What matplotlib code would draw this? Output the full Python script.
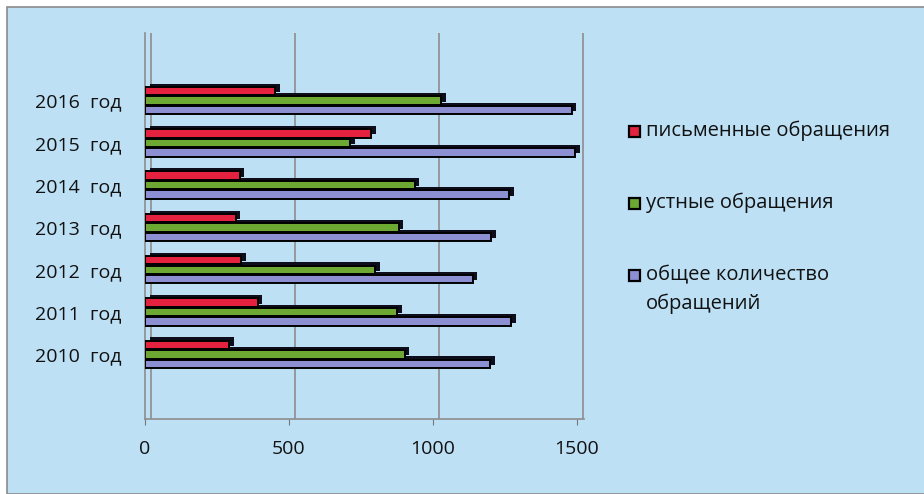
import matplotlib.pyplot as plt
import numpy as np
from matplotlib.patches import Rectangle

plt.rcParams["font.family"] = ["Open Sans", "DejaVu Sans"]
plt.rcParams["text.color"] = "#111111"
plt.rcParams["xtick.color"] = "#111111"
plt.rcParams["ytick.color"] = "#111111"

# ── data ─────────────────────────────────────────────────────────────────────
years = ["2010  год", "2011  год", "2012  год", "2013  год",
         "2014  год", "2015  год", "2016  год"]
written = [293, 392, 334, 315, 329, 785, 453]
oral = [902, 876, 800, 881, 937, 713, 1028]
total = [1200, 1272, 1138, 1203, 1266, 1495, 1482]
x_ticks = [0, 500, 1000, 1500]

series = [
    ("письменные обращения", written, "#e4223f"),
    ("устные обращения", oral, "#6ca832"),
    ("общее количество\nобращений", total, "#8d8fd3"),
]

BG = "#bde0f5"
GRID = "#8c8c8c"
W, H = 924, 494

fig = plt.figure(figsize=(W / 100, H / 100), dpi=100, facecolor="white")
# outer panel with grey frame on the left/top
fig.patches.append(Rectangle((7 / W, 0), 1, 1 - 7 / H, transform=fig.transFigure,
                             facecolor=BG, edgecolor="#8a8a8a", lw=1.2,
                             zorder=-10))

ax = fig.add_axes([145 / W, 75 / H, 439 / W, 386 / H])
ax.set_facecolor("none")

y = np.arange(len(years))
bh = 0.2
dx, dy = 16, 0.075          # fake 3D depth
for k, (label, vals, col) in enumerate(series):
    pos = y + (1 - k) * 0.225
    ax.barh(pos + dy, vals, height=bh, left=dx, color="#0d0d1c", lw=0,
            zorder=3, clip_on=False)
    ax.barh(pos, vals, height=bh, color=col, edgecolor="black", lw=1.4,
            zorder=4)

ax.set_xlim(0, 1525)
ax.set_ylim(-1.53, len(years) + 0.6)
ax.set_xticks(x_ticks)
ax.set_xticklabels([str(t) for t in x_ticks], fontsize=14)
ax.set_yticks(y)
ax.set_yticklabels(years, fontsize=14)
ax.tick_params(axis="y", length=0, pad=17)
ax.tick_params(axis="x", length=4, color="#777777", pad=11)

# back wall (3D look): grid lines sit slightly right of the front ticks
for t in x_ticks:
    ax.axvline(t + 20, color=GRID, lw=1.2, zorder=1)

for side in ("top", "right"):
    ax.spines[side].set_visible(False)
for side in ("left", "bottom"):
    ax.spines[side].set_color(GRID)
    ax.spines[side].set_linewidth(1.2)

# legend, laid out like the original (marker aligned with the first line)
leg_y = [131, 203, 275]
for (label, vals, col), ly in zip(series, leg_y):
    fig.patches.append(Rectangle((629 / W, 1 - (ly + 6) / H), 11 / W, 11 / H,
                                 transform=fig.transFigure, facecolor=col,
                                 edgecolor="black", lw=1.6, zorder=5))
    fig.text(646 / W, 1 - (ly - 10) / H, label, fontsize=14.5, ha="left",
             va="top", linespacing=1.55)

fig.savefig("out.png", dpi=100, facecolor="white")
